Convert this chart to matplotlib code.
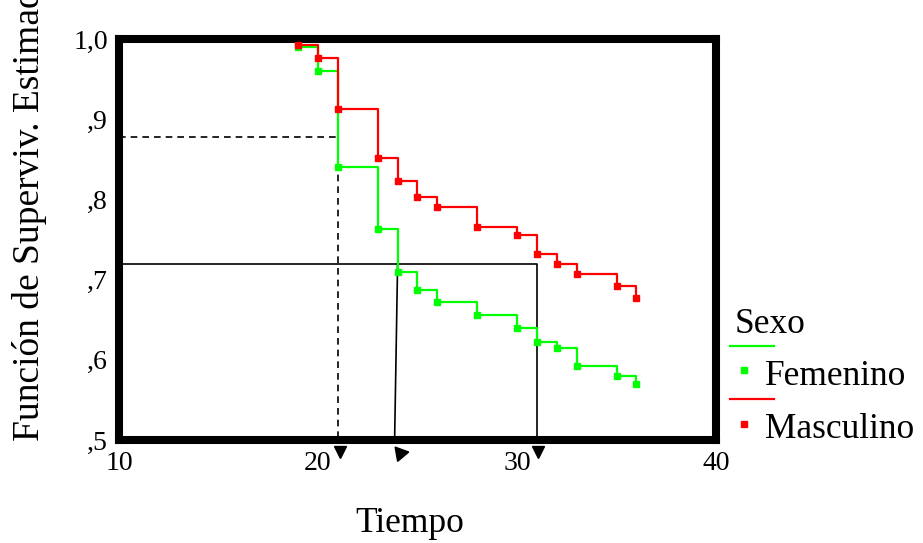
import numpy as np
import matplotlib
matplotlib.use('Agg')
import matplotlib.pyplot as plt
from matplotlib.lines import Line2D

plt.rcParams['font.family'] = ['Liberation Serif', 'DejaVu Serif']

# Kaplan-Meier estimates
tiempo = [19, 20, 21, 23, 24, 25, 26, 28, 30, 31, 32, 33, 35, 36]
surv_fem = [0.990, 0.960, 0.840, 0.763, 0.709, 0.687, 0.672, 0.656, 0.640, 0.622, 0.615, 0.592, 0.580, 0.570]
surv_masc = [0.993, 0.976, 0.913, 0.852, 0.823, 0.803, 0.791, 0.766, 0.756, 0.732, 0.719, 0.707, 0.692, 0.677]

# reference (median-type) lines drawn on the chart
ref_dash = (21, 0.878)
ref_solid_y = 0.72
ref_solid_x = [23.95, 31]

yticks = [0.5, 0.6, 0.7, 0.8, 0.9, 1.0]
ytick_labels = [',5', ',6', ',7', ',8', ',9', '1,0']
xticks = [10, 20, 30, 40]

green = '#00ff00'
red = '#ff0000'

fig = plt.figure(figsize=(9.23, 5.43), dpi=100)
ax = fig.add_axes([119/923, 1-440/543, (716-119)/923, (440-39)/543])

ax.step(tiempo, surv_fem, where='post', color=green, lw=1.6, zorder=3)
ax.plot(tiempo, surv_fem, 's', color=green, ms=4.5, zorder=4)
ax.step(tiempo, surv_masc, where='post', color=red, lw=1.6, zorder=3)
ax.plot(tiempo, surv_masc, 's', color=red, ms=4.5, zorder=4)

# dashed guide
ax.plot([10, ref_dash[0], ref_dash[0]], [ref_dash[1], ref_dash[1], 0.5],
        color='black', lw=1.2, ls=(0, (4, 3)), zorder=2)
# solid guides
ax.plot([10, ref_solid_x[1], ref_solid_x[1]], [ref_solid_y, ref_solid_y, 0.5],
        color='black', lw=1.2, zorder=2)
ax.plot([ref_solid_x[0] + 0.05, ref_solid_x[0] - 0.1], [ref_solid_y, 0.5],
        color='black', lw=1.2, zorder=2)

# arrowheads below the axis
ax.plot([ref_dash[0] + 0.12], [0.485], marker='v', color='black', ms=9, clip_on=False)
ax.plot([ref_solid_x[0] + 0.15], [0.484], marker=(3, 0, -80), color='black', ms=12, clip_on=False)
ax.plot([ref_solid_x[1] + 0.05], [0.485], marker='v', color='black', ms=9, clip_on=False)

ax.set_xlim(10, 40)
ax.set_ylim(0.5, 1.0)
ax.set_xticks(xticks)
ax.set_xticklabels([str(x) for x in xticks], fontsize=20)
ax.set_yticks(yticks)
ax.set_yticklabels(ytick_labels, fontsize=20)
ax.tick_params(axis='both', length=0)
ax.tick_params(axis='x', pad=8)
ax.tick_params(axis='y', pad=8)
for s in ax.spines.values():
    s.set_linewidth(5.8)
    s.set_capstyle('projecting')

fig.text(410/923, 1-523/543, 'Tiempo', fontsize=25.5, ha='center', va='center')
# the original label runs past the top edge of the image
fig.text(30/923, 1-441/543, 'Función de Superviv. Estimada', fontsize=27,
         rotation=90, ha='center', va='bottom')

# legend built by hand
fig.text(735/923, 1-333/543, 'Sexo', fontsize=25.5, ha='left', va='baseline')
fig.add_artist(Line2D([730/923, 774/923], [1-346/543, 1-346/543], color=green, lw=1.6,
                      transform=fig.transFigure))
fig.add_artist(Line2D([744/923], [1-370/543], marker='s', color=green, ms=4,
                      transform=fig.transFigure))
fig.text(765/923, 1-385/543, 'Femenino', fontsize=25.5, ha='left', va='baseline')
fig.add_artist(Line2D([730/923, 774/923], [1-399/543, 1-399/543], color=red, lw=1.6,
                      transform=fig.transFigure))
fig.add_artist(Line2D([744/923], [1-424/543], marker='s', color=red, ms=4,
                      transform=fig.transFigure))
fig.text(765/923, 1-438/543, 'Masculino', fontsize=25.5, ha='left', va='baseline')

fig.savefig('out.png', dpi=100)
